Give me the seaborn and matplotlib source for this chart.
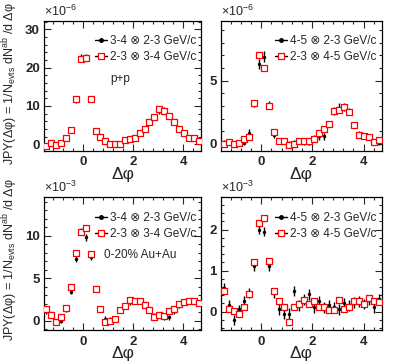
import numpy as np
import pandas as pd
import seaborn as sns
import matplotlib.pyplot as plt
from matplotlib.lines import Line2D
from matplotlib.ticker import MultipleLocator

sns.set_style('ticks')
plt.rcParams['font.family'] = ['Liberation Sans', 'DejaVu Sans']
plt.rcParams['mathtext.fontset'] = 'custom'
plt.rcParams['mathtext.rm'] = 'Liberation Sans'

# 32 bins in delta phi, -pi/2 .. 3pi/2
nbins = 32
dphi = (np.arange(nbins) + 0.5) * 2 * np.pi / nbins - np.pi / 2

# p+p, 3-4 x 2-3 (black) and 2-3 x 3-4 (red), units 1e-6
pp34_black = [-0.3, 0.4, 0.0, 0.5, 1.6, 3.6, 11.6, 22.6, 22.7, 11.8, 3.5, 1.8, 0.7, 0.1, 0.2, 0.1,
              1.0, 1.2, 1.8, 3.0, 4.0, 6.1, 7.3, 8.6, 8.9, 7.3, 5.7, 3.8, 2.9, 1.5, 1.5, 0.9]
pp34_black_err = [0.5, 0.5, 0.5, 0.5, 0.5, 0.6, 0.8, 1.0, 1.0, 0.8, 0.6, 0.5, 0.5, 0.5, 0.5, 0.5,
                  0.5, 0.5, 0.5, 0.5, 0.6, 0.6, 0.7, 0.8, 0.8, 0.7, 0.6, 0.6, 0.5, 0.5, 0.5, 0.5]
pp34_red = [-0.4, 0.3, -0.2, 0.4, 1.7, 3.7, 11.7, 22.4, 22.6, 11.7, 3.4, 1.9, 0.9, 0.1, 0.1, 0.1,
            1.2, 1.3, 1.7, 3.0, 4.0, 5.9, 7.2, 9.2, 8.8, 7.4, 5.9, 4.0, 2.8, 1.5, 1.5, 0.9]

# p+p, 4-5 x 2-3 (black) and 2-3 x 4-5 (red), units 1e-6
pp45_black = [0.1, 0.1, 0.0, 0.1, 0.1, 0.9, 3.2, 6.3, 6.9, 3.1, 0.7, 0.3, 0.2, 0.0, 0.1, 0.2,
              0.15, 0.1, 0.45, 0.6, 0.6, 1.6, 2.6, 2.85, 2.9, 2.55, 1.5, 0.8, 0.65, 0.5, 0.2, 0.1]
pp45_black_err = [0.2, 0.2, 0.2, 0.2, 0.2, 0.25, 0.3, 0.4, 0.4, 0.3, 0.25, 0.2, 0.2, 0.2, 0.2, 0.2,
                  0.2, 0.2, 0.25, 0.25, 0.25, 0.25, 0.3, 0.35, 0.3, 0.3, 0.25, 0.25, 0.25, 0.2, 0.2, 0.2]
pp45_red = [0.0, 0.15, 0.0, 0.1, 0.37, 0.55, 3.2, 7.0, 6.0, 3.0, 0.95, 0.2, 0.2, -0.08, 0.03, 0.26,
            0.26, 0.2, 0.42, 0.9, 1.2, 1.58, 2.6, 2.68, 2.9, 2.55, 1.5, 0.74, 0.6, 0.58, 0.18, 0.32]

# 0-20% Au+Au, 3-4 x 2-3 (black) and 2-3 x 3-4 (red), units 1e-3
au34_black = [1.1, 0.6, -0.1, 0.0, 1.3, 3.4, 7.3, 10.5, 9.8, 7.5, 3.8, 1.3, 0.2, 0.1, 0.3, 1.2,
              1.8, 2.2, 2.35, 2.3, 1.8, 1.2, 0.6, 0.6, 0.4, 0.4, 1.1, 1.8, 2.2, 2.3, 2.3, 2.0]
au34_black_err = [0.3] * 6 + [0.35, 0.4, 0.4, 0.35] + [0.3] * 22
au34_red = [1.34, 0.67, -0.12, 0.47, 1.46, 3.98, 8.0, 10.5, 10.9, 7.9, 3.78, 1.38, -0.12, 0.0, 0.2, 1.3,
            1.73, 2.44, 2.32, 2.32, 1.85, 1.3, 0.47, 0.67, 0.51, 1.18, 1.42, 1.97, 2.24, 2.36, 2.36, 2.05]

# 0-20% Au+Au, 4-5 x 2-3 (black) and 2-3 x 4-5 (red), units 1e-3
au45_black = [0.57, 0.15, -0.2, 0.05, 0.25, 0.45, 1.12, 2.0, 1.95, 1.12, 0.45, 0.05, -0.05, -0.05, 0.5, 0.15,
              0.3, 0.42, 0.1, 0.25, 0.1, 0.15, 0.1, 0.05, 0.2, 0.15, 0.22, 0.25, 0.18, 0.28, 0.1, 0.3]
au45_black_err = [0.12] * 6 + [0.12, 0.1, 0.1, 0.12] + [0.13] * 22
au45_red = [0.51, 0.07, 0.02, -0.06, 0.1, 0.42, 1.21, 2.15, 2.28, 1.24, 0.51, 0.26, 0.1, -0.26, 0.1, 0.18,
            0.29, 0.18, 0.26, 0.1, 0.12, 0.04, 0.04, 0.28, 0.07, 0.12, 0.25, 0.25, 0.18, 0.34, 0.26, 0.23]

panels = [
    dict(black=pp34_black, err=pp34_black_err, red=pp34_red, ylim=(-1.7, 32.3), major=10, minor=2,
         exp='-6', labels=['3-4 \u2297 2-3 GeV/c', '2-3 \u2297 3-4 GeV/c'], note='p+p'),
    dict(black=pp45_black, err=pp45_black_err, red=pp45_red, ylim=(-0.53, 9.73), major=5, minor=1,
         exp='-6', labels=['4-5 \u2297 2-3 GeV/c', '2-3 \u2297 4-5 GeV/c'], note=None),
    dict(black=au34_black, err=au34_black_err, red=au34_red, ylim=(-1.1, 14.6), major=5, minor=1,
         exp='-3', labels=['3-4 \u2297 2-3 GeV/c', '2-3 \u2297 3-4 GeV/c'], note='0-20% Au+Au'),
    dict(black=au45_black, err=au45_black_err, red=au45_red, ylim=(-0.45, 2.8), major=1, minor=0.2,
         exp='-3', labels=['4-5 \u2297 2-3 GeV/c', '2-3 \u2297 4-5 GeV/c'], note=None),
]

W, H = 394, 361
fig = plt.figure(figsize=(W / 100, H / 100), dpi=100)
cols = [(44, 157), (221, 161)]
rows = [(20.7, 150.7), (196.7, 330)]
note_pos = [(0.42, 0.55), None, (0.38, 0.56), None]

for k, p in enumerate(panels):
    r, c = divmod(k, 2)
    x0, w = cols[c]
    top, bot = rows[r]
    ax = fig.add_axes([x0 / W, 1 - bot / H, w / W, (bot - top) / H])

    df = pd.DataFrame({'dphi': dphi, 'black': p['black'], 'err': p['err'], 'red': p['red']})
    ax.errorbar(df['dphi'], df['black'], yerr=df['err'], fmt='none', ecolor='black',
                elinewidth=1, capsize=0, zorder=2)
    sns.scatterplot(data=df, x='dphi', y='black', ax=ax, color='black', marker='o', s=6,
                    edgecolor='black', linewidth=0, zorder=3)
    sns.scatterplot(data=df, x='dphi', y='red', ax=ax, marker='s', s=13, facecolor='white',
                    edgecolor='red', linewidth=0.9, zorder=4)

    ax.set_xlim(-np.pi / 2, 3 * np.pi / 2)
    ax.set_ylim(*p['ylim'])
    ax.xaxis.set_major_locator(MultipleLocator(2))
    ax.xaxis.set_minor_locator(MultipleLocator(0.4))
    ax.yaxis.set_major_locator(MultipleLocator(p['major']))
    ax.yaxis.set_minor_locator(MultipleLocator(p['minor']))
    ax.tick_params(which='both', direction='in', top=True, right=True, width=0.8,
                   labelsize=9.5)
    ax.tick_params(axis='x', pad=4)
    ax.tick_params(axis='y', pad=3)
    ax.tick_params(which='major', length=5)
    ax.tick_params(which='minor', length=2.5)
    for lab in ax.get_xticklabels() + ax.get_yticklabels():
        lab.set_fontweight('bold')
    for s in ax.spines.values():
        s.set_linewidth(0.9)
        s.set_color('black')
    ax.set_xlabel('\u0394\u03c6', fontsize=12.5, labelpad=-1)
    ax.set_ylabel('')
    ax.text(0, 1.015, '\u00d710$^{\\mathregular{' + p['exp'] + '}}$', transform=ax.transAxes,
            fontsize=9, ha='left', va='bottom')

    handles = [Line2D([], [], color='black', marker='o', markersize=2.5, lw=1),
               Line2D([], [], color='black', marker='s', markersize=4, mfc='white', mec='red',
                      mew=0.9, lw=1)]
    ax.legend(handles, p['labels'], loc='upper left',
              bbox_to_anchor=(0.325 if c == 0 else 0.335, 0.892 if r == 0 else 0.887),
              frameon=False, fontsize=8.5, handlelength=1.0, handletextpad=0.25,
              labelspacing=0.4, borderaxespad=0, borderpad=0)
    if p['note']:
        nx, ny = note_pos[k]
        ax.text(nx, ny, p['note'], transform=ax.transAxes, fontsize=8.5, ha='left', va='center')

ylab = 'JPY(\u0394\u03c6) = 1/N$_{\\mathregular{evts}}$ dN$^{\\mathregular{ab}}$ /d \u0394\u03c6'
for ytop in (2, 178):
    fig.text(10 / W, 1 - ytop / H, ylab, rotation=90, ha='center', va='top', fontsize=9)

fig.savefig('out.png', dpi=100)
